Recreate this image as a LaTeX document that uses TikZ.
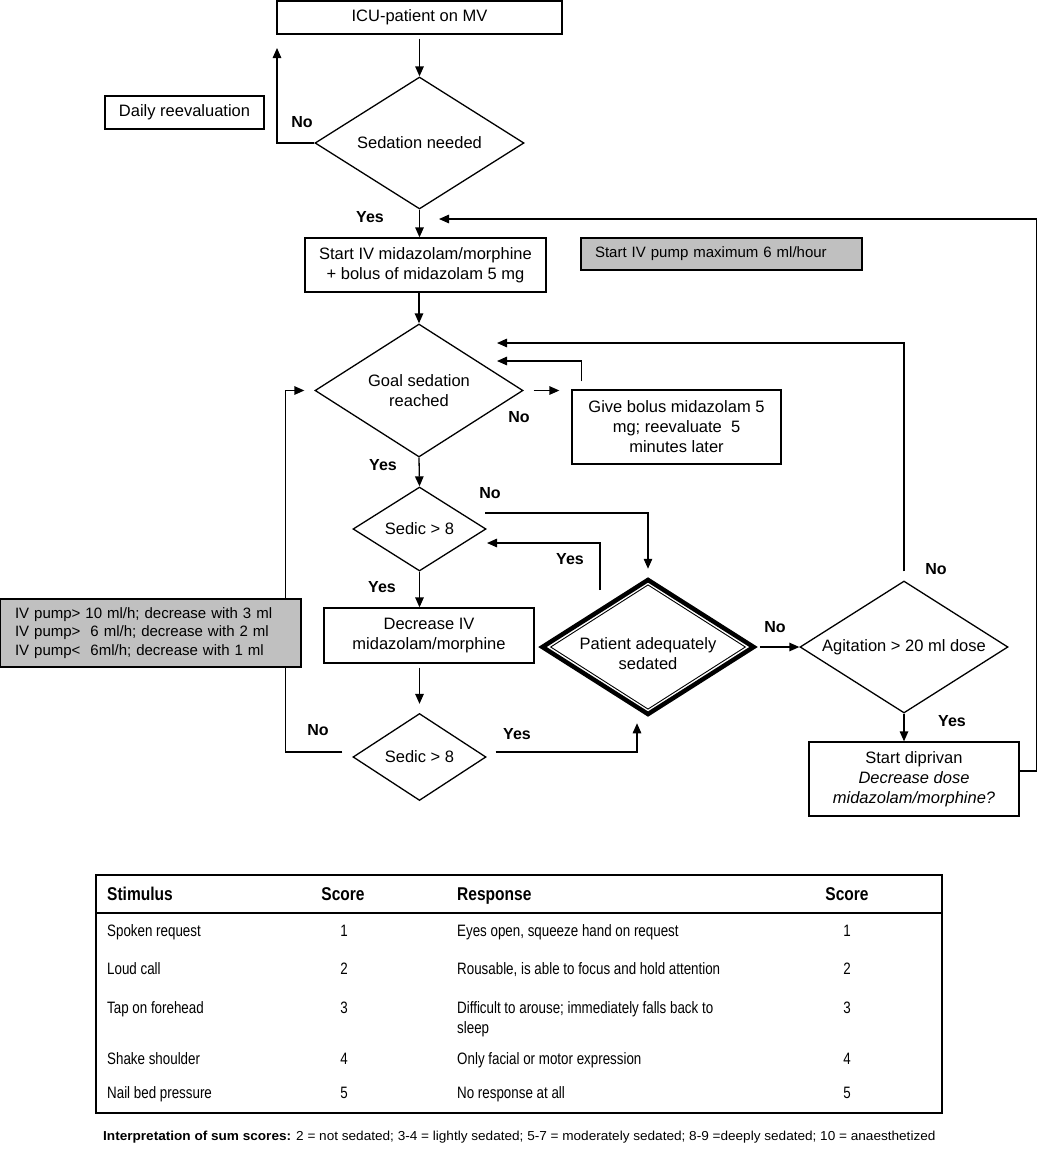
\documentclass[tikz,border=0pt]{standalone}
\usepackage{fontspec}
\setmainfont{Liberation Sans}
\newfontfamily\narrowfont[FakeStretch=0.81]{Liberation Sans}
\newfontfamily\narrowhead[FakeStretch=0.84]{Liberation Sans}
\newfontfamily\widefont[FakeStretch=1.045]{Liberation Sans}
\usetikzlibrary{shapes.geometric,arrows.meta,calc}
\definecolor{grayfill}{RGB}{192,192,192}
\begin{document}
\begin{tikzpicture}[x=1pt,y=-1pt,
 ft/.style={font=\fontsize{16.5}{20}\selectfont},
 box/.style={draw,line width=1.3pt,align=center,inner sep=0pt,ft},
 dia/.style={draw,diamond,line width=1.3pt,align=center,inner sep=0pt,ft},
 gbox/.style={draw,line width=1.3pt,fill=grayfill,font=\fontsize{15}{18.5}\selectfont},
 lbl/.style={font=\fontsize{16}{19}\selectfont\bfseries,inner sep=0pt},
 arr/.style={line width=1.3pt,-{Triangle[length=10pt,width=8.5pt]}},
 tb/.style={font=\narrowfont\fontsize{16.5}{19}\selectfont,inner sep=0pt},
 th/.style={font=\narrowhead\bfseries\fontsize{18.5}{21}\selectfont,inner sep=0pt}]
\fill[white] (0,0) rectangle (1039,1159);
\useasboundingbox (0,0) rectangle (1039,1159);

% nodes
\node[box, minimum width=285, minimum height=33] (icu) at (419.5,17.5) {ICU-patient on MV};
\node[dia, shape aspect=1.58, minimum width=209, minimum height=132] (sed) at (419.5,143) {Sedation needed};
\node[box, minimum width=159, minimum height=33] (daily) at (184.5,112.5) {Daily reevaluation};
\node[box, minimum width=241, minimum height=54] (start) at (425.5,265) {Start IV midazolam/morphine\\+ bolus of midazolam 5 mg};
\node[gbox, text width=253pt, align=left, inner xsep=14pt, inner ysep=0pt, minimum height=32] (pump) at (721.5,254) {Start IV pump maximum 6 ml/hour};
\node[dia, shape aspect=1.56, minimum width=208, minimum height=133] (goal) at (419,390.5) {Goal sedation\\reached};
\node[box, minimum width=209, minimum height=74] (bolus) at (676.5,427) {Give bolus midazolam 5\\mg; reevaluate\ \ 5\\minutes later};
\node[dia, shape aspect=1.58, minimum width=133, minimum height=84] (sedic1) at (419.5,529) {Sedic > 8};
\node[box, minimum width=210, minimum height=55] (dec) at (429,635.5) {Decrease IV\\midazolam/morphine};
\node[dia, shape aspect=1.53, minimum width=133, minimum height=87] (sedic2) at (419.5,757) {Sedic > 8};
\node[draw, diamond, line width=4.5pt, shape aspect=1.57, minimum width=213, minimum height=136, inner sep=0pt] (pat) at (648,647) {};
\node[draw, diamond, line width=0.9pt, shape aspect=1.57, minimum width=195, minimum height=124.5, inner sep=0pt] (patin) at (648,647) {};
\node[ft, align=center, inner sep=0pt] (ptext) at (648,654) {Patient adequately\\sedated};
\node[dia, shape aspect=1.58, minimum width=208, minimum height=132] (agit) at (904,647) {Agitation > 20 ml dose};
\node[box, minimum width=210, minimum height=74] (dip) at (914,779) {Start diprivan\\\textit{Decrease dose}\\\textit{midazolam/morphine?}};

% free ends
\coordinate (noup) at (277,48);
\coordinate (topin) at (439,219);
\coordinate (goalin1) at (497,343);
\coordinate (goalin2) at (497,361);
\coordinate (s1out) at (485,513);
\coordinate (s1in) at (487,543);
\coordinate (patyes) at (600,590);

% connectors
\draw[arr] ([yshift=-4pt]icu.south) -- (sed.north);
\draw[arr] (sed.west) -| (noup);
\draw[arr] (sed.south) -- (sed.south |- start.north);
\draw[arr] (start.south -| goal.north) -- (goal.north);
\draw[arr] ([xshift=10pt]goal.east) -- ([xshift=-12pt]goal.east -| bolus.west);
\draw[arr] ([xshift=10pt,yshift=8pt]bolus.north west) |- (goalin2);
\draw[arr] (goal.south) -- (sedic1.north);
\draw[arr] (s1out) -| ([yshift=8pt]pat.north);
\draw[arr] (patyes) |- (s1in);
\draw[arr] (sedic1.south) -- (sedic1.south |- dec.north);
\draw[arr] ([yshift=-4pt]dec.south -| sedic2.north) -- ([yshift=9pt]sedic2.north);
\draw[arr] ([xshift=-10pt,yshift=5pt]sedic2.west) -- ++(-57,0) |- ([xshift=-10pt]goal.west);
\draw[arr] ([xshift=9pt,yshift=5pt]sedic2.east) -| ([xshift=-11pt,yshift=-6pt]pat.south);
\draw[arr] ([xshift=3pt]pat.east) -- (agit.west);
\draw[arr] ([yshift=9pt]agit.north) |- (goalin1);
\draw[arr] (agit.south) -- (agit.south |- dip.north);
\draw[arr] ([yshift=8pt]dip.east) -- ++(17,0) |- (topin);

% left gray box drawn over the loop line
\node[gbox, text width=271pt, align=left, inner xsep=15pt, inner ysep=0pt, minimum height=68] (rules) at (150.5,633) {IV pump> 10 ml/h; decrease with 3 ml\\IV pump>\ \ 6 ml/h; decrease with 2 ml\\IV pump<\ \ 6ml/h; decrease with 1 ml};

% labels
\node[lbl] (l1) at (302,122) {No};
\node[lbl] (l2) at (370,217) {Yes};
\node[lbl] (l3) at (519,417) {No};
\node[lbl] (l4) at (383,465) {Yes};
\node[lbl] (l5) at (490,493) {No};
\node[lbl] (l6) at (570,559) {Yes};
\node[lbl] (l7) at (382,587) {Yes};
\node[lbl] (l8) at (318,730) {No};
\node[lbl] (l9) at (517,734) {Yes};
\node[lbl] (l10) at (775,627) {No};
\node[lbl] (l11) at (936,569) {No};
\node[lbl] (l12) at (952,721) {Yes};

% table
\draw[line width=1.3pt] (96,875) rectangle (942,1113);
\draw[line width=2pt] (96,913) -- (942,913);
\node[th, anchor=base west] (h1) at (107,900.5) {Stimulus};
\node[th, anchor=base] (h2) at (343,900.5) {Score};
\node[th, anchor=base west] (h3) at (457,900.5) {Response};
\node[th, anchor=base] (h4) at (847,900.5) {Score};

\node[tb, anchor=base west] (s1) at (107,936) {Spoken request};
\node[tb, anchor=base] (c1) at (344,936) {1};
\node[tb, anchor=base west] (r1) at (457,936) {Eyes open, squeeze hand on request};
\node[tb, anchor=base] (d1) at (847,936) {1};

\node[tb, anchor=base west] (s2) at (107,974) {Loud call};
\node[tb, anchor=base] (c2) at (344,974) {2};
\node[tb, anchor=base west] (r2) at (457,974) {Rousable, is able to focus and hold attention};
\node[tb, anchor=base] (d2) at (847,974) {2};

\node[tb, anchor=base west] (s3) at (107,1013) {Tap on forehead};
\node[tb, anchor=base] (c3) at (344,1013) {3};
\node[tb, anchor=base west] (r3) at (457,1013) {Difficult to arouse; immediately falls back to};
\node[tb, anchor=base west] (r3b) at (457,1033) {sleep};
\node[tb, anchor=base] (d3) at (847,1013) {3};

\node[tb, anchor=base west] (s4) at (107,1064) {Shake shoulder};
\node[tb, anchor=base] (c4) at (344,1064) {4};
\node[tb, anchor=base west] (r4) at (457,1064) {Only facial or motor expression};
\node[tb, anchor=base] (d4) at (847,1064) {4};

\node[tb, anchor=base west] (s5) at (107,1098) {Nail bed pressure};
\node[tb, anchor=base] (c5) at (344,1098) {5};
\node[tb, anchor=base west] (r5) at (457,1098) {No response at all};
\node[tb, anchor=base] (d5) at (847,1098) {5};

\node[anchor=base west, inner sep=0pt, font=\widefont\fontsize{13}{15}\selectfont] (foot) at (103,1140.5) {\textbf{Interpretation of sum scores:} 2 = not sedated; 3-4 = lightly sedated; 5-7 = moderately sedated; 8-9 =deeply sedated; 10 = anaesthetized};
\end{tikzpicture}
\end{document}
